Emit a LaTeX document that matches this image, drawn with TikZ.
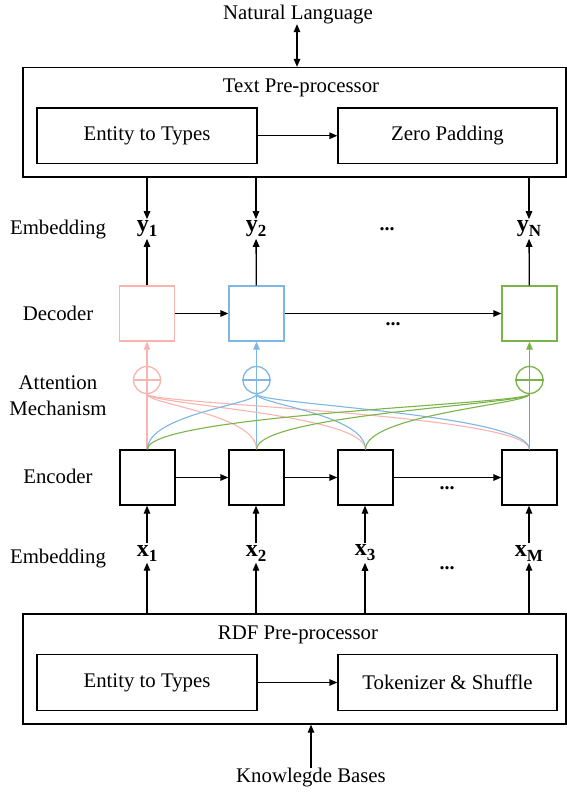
\documentclass[tikz,border=0pt]{standalone}
\usepackage{fontspec}
\setmainfont{Liberation Serif}
\usetikzlibrary{arrows.meta,calc}
\definecolor{cpink}{RGB}{250,180,175}
\definecolor{cblue}{RGB}{126,182,230}
\definecolor{cgreen}{RGB}{122,180,72}
\newcommand\vlab[2]{{\fontsize{24}{24}\selectfont\bfseries #1}\raisebox{-5pt}{\fontsize{17}{17}\selectfont\bfseries #2}}
\begin{document}
\begin{tikzpicture}[x=1pt,y=-1pt,
  txt/.style={font=\fontsize{20.8}{26}\selectfont, inner sep=0pt},
  box/.style={draw, line width=1.3pt, inner sep=0pt, font=\fontsize{20.8}{24}\selectfont},
  sq/.style={draw, line width=1.3pt, minimum width=55pt, minimum height=55pt, inner sep=0pt},
  lab/.style={inner sep=1.5pt},
  dots/.style={font=\fontsize{20}{20}\selectfont\bfseries, inner sep=0pt},
  arr/.style={line width=1.3pt, -{Triangle[length=8pt,width=6.5pt]}},
  carr/.style={line width=1.3pt, -{Triangle[length=8pt,width=6.5pt]}},
  att/.style={line width=1.1pt},
  circ/.style={circle, draw, line width=1.3pt, minimum size=27pt, inner sep=0pt}
]
\useasboundingbox (0,0) rectangle (567,792);

% top
\node[txt] (nl) at (298,14.5) {Natural Language};
\node[box, minimum width=543pt, minimum height=109.5pt] (tp) at (294.5,122.25) {};
\node[txt] (tpt) at (301,87.5) {Text Pre-processor};
\node[box, minimum width=220pt, minimum height=55.5pt] (te) at (147,135.75) {Entity to Types};
\node[box, minimum width=219pt, minimum height=55.5pt] (zp) at (447.5,135.75) {Zero Padding};
\draw[line width=1.3pt, {Triangle[length=8pt,width=6.5pt]}-{Triangle[length=8pt,width=6.5pt]}] (nl.south -| 297,0) -- (tp.north -| 297,0);
\draw[arr] (te) -- (zp);

% left labels
\node[txt] (l1) at (58,229.5) {Embedding};
\node[txt] (l2) at (58,313.5) {Decoder};
\node[txt, align=center] (l3) at (58,395.5) {Attention\\Mechanism};
\node[txt] (l4) at (58,476.5) {Encoder};
\node[txt] (l5) at (58,558.5) {Embedding};

% y row
\node[lab] (y1) at (147,229) {\vlab{y}{1}};
\node[lab] (y2) at (256,229) {\vlab{y}{2}};
\node[dots] (yd) at (387,229) {...};
\node[lab] (yn) at (529,229) {\vlab{y}{N}};
\draw[arr] (tp.south -| y1) -- (y1);
\draw[arr] (tp.south -| y2) -- (y2);
\draw[arr] (tp.south -| yn) -- (yn);

% decoder
\node[sq, draw=cpink] (d1) at (147,313.5) {};
\node[sq, draw=cblue] (d2) at (256.5,313.5) {};
\node[sq, draw=cgreen] (d3) at (529.5,313.5) {};
\draw[arr] (d1) -- (y1);
\draw[arr] (d2) -- (y2);
\draw[arr] (d3) -- (yn);
\draw[arr] (d1) -- (d2);
\draw[arr] (d2) -- (d3);
\node[dots] (dd) at (393,324) {...};

% encoder
\node[sq] (e1) at (147.5,477.5) {};
\node[sq] (e2) at (256.5,477.5) {};
\node[sq] (e3) at (365.5,477.5) {};
\node[sq] (e4) at (529.5,477.5) {};
\draw[arr] (e1) -- (e2);
\draw[arr] (e2) -- (e3);
\draw[arr] (e3) -- (e4);
\node[dots] (ed) at (447,488) {...};

% attention circles
\node[circ, draw=cpink] (c1) at (147,380) {};
\node[circ, draw=cblue] (c2) at (256.5,380) {};
\node[circ, draw=cgreen] (c3) at (529.5,380) {};
\draw[cpink, line width=1.3pt] (c1.west) -- (c1.east);
\draw[cblue, line width=1.3pt] (c2.west) -- (c2.east);
\draw[cgreen, line width=1.3pt] (c3.west) -- (c3.east);
\draw[carr, cpink] (e1.north -| c1) -- (d1.south -| c1);
\draw[carr, cblue] (e2.north -| c2) -- (d2.south -| c2);
\draw[carr, cgreen] (e4.north -| c3) -- (d3.south -| c3);

\foreach \e in {e2,e3,e4}{
  \draw[att, cpink] (c1.south) .. controls +(0,10) and +(0,-35) .. (\e.north);
}
\foreach \e in {e1,e3,e4}{
  \draw[att, cblue] (c2.south) .. controls +(0,10) and +(0,-35) .. (\e.north);
}
\foreach \e in {e1,e2,e3}{
  \draw[att, cgreen] (c3.south) .. controls +(0,10) and +(0,-35) .. (\e.north);
}

% x row
\node[lab] (x1) at (147,553) {\vlab{x}{1}};
\node[lab] (x2) at (256,553) {\vlab{x}{2}};
\node[lab] (x3) at (365,553) {\vlab{x}{3}};
\node[dots] (xd) at (447,568) {...};
\node[lab] (xm) at (529,553) {\vlab{x}{M}};
\draw[arr] (x1) -- (e1.south -| x1);
\draw[arr] (x2) -- (e2.south -| x2);
\draw[arr] (x3) -- (e3.south -| x3);
\draw[arr] (xm) -- (e4.south -| xm);

% bottom
\node[box, minimum width=543pt, minimum height=110pt] (rp) at (294.5,669) {};
\node[txt] (rpt) at (298,634.5) {RDF Pre-processor};
\node[box, minimum width=220pt, minimum height=55.5pt] (re) at (147,682.5) {Entity to Types};
\node[box, minimum width=219pt, minimum height=55.5pt] (ts) at (447.5,682.5) {Tokenizer \& Shuffle};
\draw[arr] (re) -- (ts);
\draw[arr] (rp.north -| x1) -- (x1);
\draw[arr] (rp.north -| x2) -- (x2);
\draw[arr] (rp.north -| x3) -- (x3);
\draw[arr] (rp.north -| xm) -- (xm);
\node[txt] (kb) at (311,778) {Knowlegde Bases};
\draw[arr] (kb.north -| 311,0) -- (rp.south -| 311,0);
\end{tikzpicture}
\end{document}
